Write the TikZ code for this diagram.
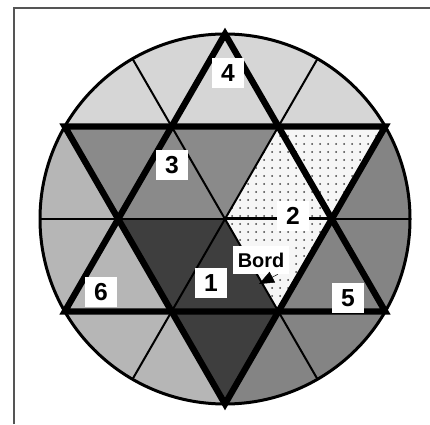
\documentclass[tikz,border=0pt]{standalone}
\usepackage{fontspec}
\setmainfont{Liberation Sans}
\usetikzlibrary{arrows.meta,calc,patterns.meta}
\definecolor{zoneOne}{RGB}{62,62,62}
\definecolor{zoneTwo}{RGB}{246,246,246}
\definecolor{zoneThree}{RGB}{138,138,138}
\definecolor{zoneFour}{RGB}{214,214,214}
\definecolor{zoneFive}{RGB}{132,132,132}
\definecolor{zoneSix}{RGB}{182,182,182}
\definecolor{frameGray}{RGB}{85,85,85}
\tikzdeclarepattern{name=sparsedots,type=uncolored,
  bounding box={(-0.12cm,-0.12cm) and (0.12cm,0.12cm)},
  tile size={(0.24cm,0.24cm)},
  code={\fill (0cm,0cm) circle (0.03cm);}}

\begin{document}
\begin{tikzpicture}[x=0.03cm,y=0.03cm,
  starline/.style={line width=0.19cm,line join=miter},
  thinline/.style={line width=0.06cm},
  zonebox/.style={fill=white,font=\fontsize{21}{23}\selectfont\bfseries,minimum width=0.95cm,minimum height=0.92cm,inner sep=0pt}]
  \useasboundingbox (0,0) rectangle (430,424);
  \coordinate (c) at (225,205);
  \foreach \a in {0,60,...,300} {
    \coordinate (i\a) at ($(c)+(\a:106.8)$);
    \coordinate (p\a) at ($(c)+(\a:185)$);
  }
  \foreach \a in {30,90,...,330}
    \coordinate (o\a) at ($(c)+(\a:185)$);
  \fill[zoneFour] (o30) arc[start angle=30,end angle=150,radius=185] -- cycle;
  \fill[zoneSix] (o150) arc[start angle=150,end angle=270,radius=185] -- cycle;
  \fill[zoneFive] (o270) arc[start angle=270,end angle=390,radius=185] -- cycle;
  \fill[zoneOne] (c) -- (i180) -- (o270) -- (i300) -- cycle;
  \fill[zoneTwo] (c) -- (i300) -- (o30) -- (i60) -- cycle;
  \fill[pattern=sparsedots,pattern color=black!75] (c) -- (i300) -- (o30) -- (i60) -- cycle;
  \fill[zoneThree] (c) -- (i60) -- (o150) -- (i180) -- cycle;
  \foreach \a in {0,60,...,300}
    \draw[thinline] (c) -- (p\a);
  \draw[line width=0.09cm] (c) -- (i0);
  \draw[starline] (o90) -- (o210) -- (o330) -- cycle;
  \draw[starline] (o30) -- (o150) -- (o270) -- cycle;
  \draw[line width=0.09cm] (c) circle[radius=185];
  \draw[line width=0.06cm,frameGray] (13.5,0) -- (13.5,415.5) -- (430,415.5);
  \node[zonebox] (z4) at (228,351) {4};
  \node[zonebox] (z3) at (172,259) {3};
  \node[zonebox] (z2) at (293,208) {2};
  \node[zonebox] (z1) at (211,141) {1};
  \node[zonebox] (z6) at (101,132) {6};
  \node[zonebox] (z5) at (348,126) {5};
  \node[fill=white,font=\fontsize{17}{19}\selectfont\bfseries,minimum width=1.7cm,minimum height=0.84cm,inner sep=0pt] (bord) at (261,164) {Bord};
  \coordinate (bordtip) at (259,140);
  \draw[-{Triangle[length=0.45cm,width=0.36cm]}] (bord.-40) -- (bordtip);
\end{tikzpicture}
\end{document}
